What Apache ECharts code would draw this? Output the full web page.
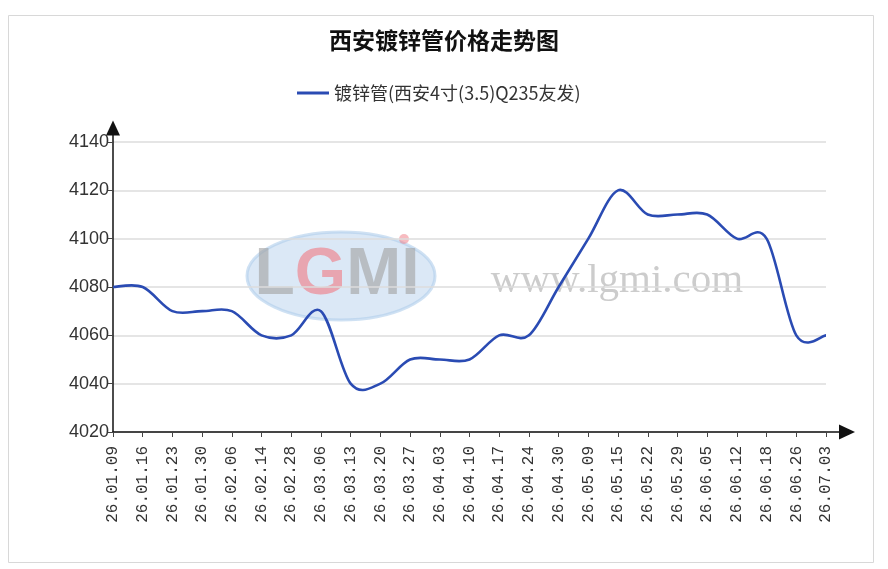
<!DOCTYPE html>
<html lang="zh-CN">

<head>
    <meta charset="UTF-8">
    <title>西安镀锌管价格走势图</title>
    <style>
        html, body { margin: 0; padding: 0; background: #fff; }
        #main { width: 888px; height: 569px; }
    </style>
</head>

<body>
    <div id="main"></div>
    <script src="https://cdn.jsdelivr.net/npm/echarts@6/dist/echarts.min.js"></script>
    <script>
        const dates = ['26.01.09', '26.01.16', '26.01.23', '26.01.30', '26.02.06', '26.02.14', '26.02.28',
            '26.03.06', '26.03.13', '26.03.20', '26.03.27', '26.04.03', '26.04.10', '26.04.17', '26.04.24',
            '26.04.30', '26.05.09', '26.05.15', '26.05.22', '26.05.29', '26.06.05', '26.06.12', '26.06.18',
            '26.06.26', '26.07.03']
        const prices = [4080, 4080, 4070, 4070, 4070, 4060, 4060,
            4070, 4040, 4040, 4050, 4050, 4050, 4060, 4060,
            4080, 4100, 4120, 4110, 4110, 4110, 4100, 4100,
            4060, 4060]
        const yTicks = [4020, 4040, 4060, 4080, 4100, 4120, 4140]

        const seriesName = '镀锌管(西安4寸(3.5)Q235友发)'
        const lineColor = '#2a4bb3'

        const myChart = echarts.init(document.getElementById('main'))

        // 原图是 Catmull-Rom 样条（会略微冲过数据点），echarts 自带的 smooth 会压平，
        // 所以用 custom series 按坐标轴换算后自己连贝塞尔曲线
        function renderSpline(params, api) {
            if (params.dataIndex !== 0) return null
            const pts = prices.map((v, i) => api.coord([i, v]))
            const n = pts.length
            let d = 'M' + pts[0][0] + ',' + pts[0][1]
            for (let i = 0; i < n - 1; i++) {
                const p0 = pts[Math.max(i - 1, 0)]
                const p1 = pts[i]
                const p2 = pts[i + 1]
                const p3 = pts[Math.min(i + 2, n - 1)]
                const c1x = p1[0] + (p2[0] - p0[0]) / 6
                const c1y = p1[1] + (p2[1] - p0[1]) / 6
                const c2x = p2[0] - (p3[0] - p1[0]) / 6
                const c2y = p2[1] - (p3[1] - p1[1]) / 6
                d += ' C' + c1x + ',' + c1y + ' ' + c2x + ',' + c2y + ' ' + p2[0] + ',' + p2[1]
            }
            return {
                type: 'path',
                shape: { pathData: d },
                style: { fill: 'none', stroke: lineColor, lineWidth: 2.6, lineJoin: 'round' }
            }
        }

        const option = {
            animation: false,
            backgroundColor: '#fff',
            title: {
                text: '西安镀锌管价格走势图',
                left: 'center',
                top: 29,
                padding: 0,
                textStyle: {
                    fontFamily: 'Noto Sans CJK SC',
                    fontSize: 23,
                    fontWeight: 'bold',
                    color: '#111'
                }
            },
            legend: {
                top: 79,
                left: 292,
                itemWidth: 32,
                itemHeight: 3,
                itemGap: 8,
                data: [{ name: seriesName, icon: 'rect' }],
                textStyle: {
                    fontFamily: 'Noto Sans CJK SC',
                    fontSize: 18,
                    color: '#333'
                }
            },
            // 两个 grid：一个画数据，一个只画带箭头的坐标轴
            grid: [
                { left: 113, right: 62, top: 142, bottom: 137 },
                { left: 113, right: 41, top: 128, bottom: 137 }
            ],
            xAxis: [{
                gridIndex: 0,
                type: 'category',
                data: dates,
                boundaryGap: false,
                axisLine: { show: false },
                axisTick: { show: true, length: 5, lineStyle: { color: '#444' } },
                axisLabel: {
                    rotate: 90,
                    margin: 14,
                    interval: 0,
                    fontFamily: 'Liberation Mono',
                    fontSize: 16,
                    color: '#333'
                },
                splitLine: { show: false }
            }, {
                gridIndex: 1,
                type: 'value',
                min: 0,
                max: 1,
                axisLine: {
                    show: true,
                    symbol: ['none', 'triangle'],
                    symbolSize: [15, 16],
                    lineStyle: { color: '#111', width: 1.5 }
                },
                axisTick: { show: false },
                axisLabel: { show: false },
                splitLine: { show: false }
            }],
            yAxis: [{
                gridIndex: 0,
                type: 'value',
                min: yTicks[0],
                max: yTicks[yTicks.length - 1],
                interval: yTicks[1] - yTicks[0],
                axisLine: { show: false },
                axisTick: { show: true, length: 5, lineStyle: { color: '#444' } },
                axisLabel: {
                    margin: 4,
                    fontFamily: 'Liberation Sans',
                    fontSize: 18,
                    color: '#333',
                    formatter: v => String(v)
                },
                splitLine: { show: true, lineStyle: { color: '#dcdcdc', width: 1.5 } }
            }, {
                gridIndex: 1,
                type: 'value',
                min: 0,
                max: 1,
                axisLine: {
                    show: true,
                    symbol: ['none', 'triangle'],
                    symbolSize: [14, 15],
                    lineStyle: { color: '#111', width: 1.5 }
                },
                axisTick: { show: false },
                axisLabel: { show: false },
                splitLine: { show: false }
            }],
            graphic: [
                // 外框
                {
                    type: 'rect',
                    shape: { x: 8.5, y: 15.5, width: 865, height: 547 },
                    style: { fill: 'none', stroke: '#d8d8d8', lineWidth: 1 },
                    z: -10
                },
                // 水印 LGMI
                {
                    type: 'ellipse',
                    shape: { cx: 341, cy: 276, rx: 94, ry: 44 },
                    style: { fill: 'rgba(175,205,235,0.45)', stroke: 'rgba(175,205,235,0.6)', lineWidth: 3 },
                    silent: true,
                    z: -5
                },
                {
                    type: 'text',
                    x: 337,
                    y: 276,
                    silent: true,
                    z: -4,
                    style: {
                        text: '{g|L}{r|G}{g|MI}',
                        align: 'center',
                        verticalAlign: 'middle',
                        rich: {
                            g: { fontFamily: 'Liberation Sans', fontSize: 66, fontWeight: 'bold', fill: 'rgba(160,160,160,0.6)' },
                            r: { fontFamily: 'Liberation Sans', fontSize: 66, fontWeight: 'bold', fill: 'rgba(240,120,130,0.6)' }
                        }
                    }
                },
                {
                    type: 'circle',
                    shape: { cx: 404, cy: 239, r: 5 },
                    style: { fill: 'rgba(240,120,130,0.5)' },
                    silent: true,
                    z: -4
                },
                // 水印网址
                {
                    type: 'text',
                    x: 617,
                    y: 281,
                    silent: true,
                    z: -4,
                    style: {
                        text: 'www.lgmi.com',
                        align: 'center',
                        verticalAlign: 'middle',
                        fontFamily: 'Liberation Serif',
                        fontSize: 41,
                        fill: 'rgba(195,195,195,0.85)'
                    }
                }
            ],
            series: [{
                name: seriesName,
                type: 'custom',
                xAxisIndex: 0,
                yAxisIndex: 0,
                clip: false,
                data: prices.map((v, i) => [i, v]),
                encode: { x: 0, y: 1 },
                renderItem: renderSpline,
                itemStyle: { color: lineColor }
            }]
        }

        myChart.setOption(option)
    </script>
</body>

</html>
